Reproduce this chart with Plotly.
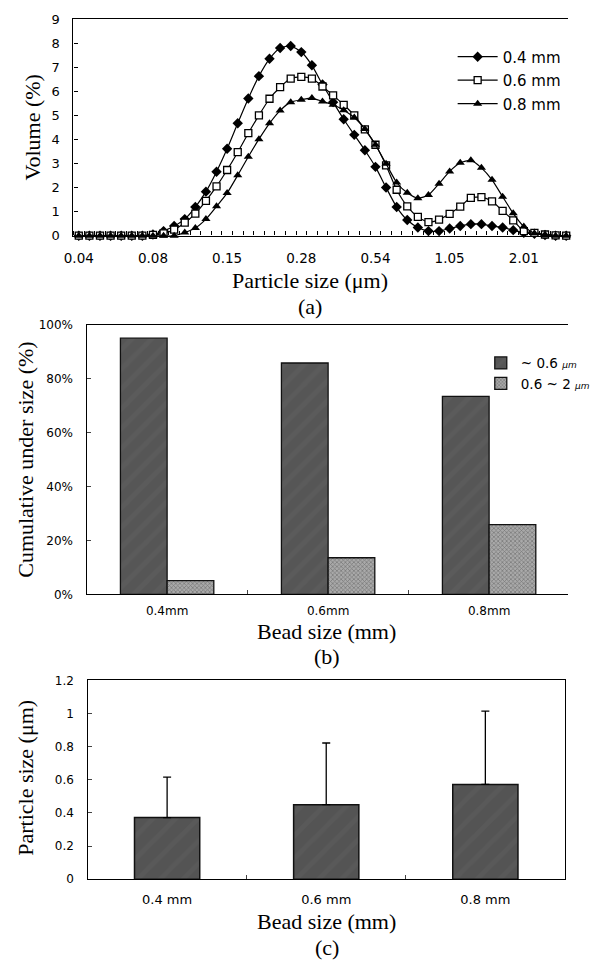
import plotly.graph_objects as go

# ---------------- (a) particle size distribution ----------------
bin_index = list(range(47))
size_tick_index = [0, 7, 14, 21, 28, 35, 42]
size_tick_labels = ["0.04", "0.08", "0.15", "0.28", "0.54", "1.05", "2.01"]

vol_04 = [0, 0, 0, 0, 0, 0, 0, 0.05, 0.19, 0.40, 0.69, 1.19, 1.83, 2.66, 3.61, 4.67,
          5.70, 6.63, 7.35, 7.80, 7.88, 7.63, 7.08, 6.28, 5.55, 4.84, 4.19, 3.55, 2.86,
          2.00, 1.19, 0.65, 0.34, 0.19, 0.19, 0.30, 0.40, 0.48, 0.48, 0.40, 0.34, 0.23,
          0.12, 0.08, 0.03, 0, 0]
vol_06 = [0, 0, 0, 0, 0, 0, 0, 0.03, 0.10, 0.25, 0.54, 0.92, 1.45, 2.05, 2.73, 3.47,
          4.26, 5.00, 5.69, 6.17, 6.53, 6.60, 6.53, 6.20, 5.83, 5.44, 5.00, 4.42, 3.78,
          2.92, 1.91, 1.22, 0.78, 0.56, 0.67, 0.91, 1.21, 1.57, 1.60, 1.43, 1.03, 0.64,
          0.19, 0.12, 0.05, 0.01, 0]
vol_08 = [0, 0, 0, 0, 0, 0, 0, 0, 0, 0, 0.13, 0.32, 0.69, 1.22, 1.77, 2.51,
          3.28, 4.01, 4.67, 5.20, 5.55, 5.65, 5.72, 5.58, 5.44, 5.21, 4.91, 4.43, 3.78,
          2.99, 2.21, 1.78, 1.56, 1.69, 2.16, 2.67, 3.03, 3.13, 2.82, 2.32, 1.62, 0.93,
          0.38, 0.10, 0.05, 0, 0]
series_names_a = ["0.4 mm", "0.6 mm", "0.8 mm"]

# ---------------- (b) cumulative under size ----------------
bead_sizes_b = ["0.4mm", "0.6mm", "0.8mm"]
under_06 = [95.0, 85.8, 73.4]
between_06_2 = [5.1, 13.6, 25.9]

# ---------------- (c) mean particle size ----------------
bead_sizes_c = ["0.4 mm", "0.6 mm", "0.8 mm"]
mean_size = [0.372, 0.450, 0.572]
size_err = [0.244, 0.372, 0.443]

W, H = 595, 965
TICKFONT = "DejaVu Sans"
SERIF = "Liberation Serif, Times New Roman, serif"


def px_x(p):
    return p / W


def px_y(p):
    return 1 - p / H


fig = go.Figure()

line_kw = dict(color="black", width=1.2, shape="spline", smoothing=0.6)
fig.add_trace(go.Scatter(x=bin_index, y=vol_04, name=series_names_a[0], mode="lines+markers",
                         line=line_kw, cliponaxis=False, legendgroup="a1",
                         marker=dict(symbol="diamond", size=8, color="black"),
                         xaxis="x", yaxis="y", legend="legend"))
fig.add_trace(go.Scatter(x=bin_index, y=vol_06, name=series_names_a[1], mode="lines+markers",
                         line=line_kw, cliponaxis=False, legendgroup="a2",
                         marker=dict(symbol="square", size=7, color="white",
                                     line=dict(color="black", width=1.3)),
                         xaxis="x", yaxis="y", legend="legend"))
fig.add_trace(go.Scatter(x=bin_index, y=vol_08, name=series_names_a[2], mode="lines+markers",
                         line=line_kw, cliponaxis=False, legendgroup="a3",
                         marker=dict(symbol="triangle-up", size=8, color="black"),
                         xaxis="x", yaxis="y", legend="legend"))

# (b) bars
fig.add_trace(go.Bar(x=bead_sizes_b, y=under_06,
                     name="~ 0.6 <i><span style='font-size:9px'>μm</span></i>",
                     marker=dict(color="#575757", line=dict(color="#111111", width=1.3),
                                 pattern=dict(shape="/", fgcolor="#606060", bgcolor="#565656",
                                              size=14, solidity=0.35)),
                     xaxis="x2", yaxis="y2", legend="legend2"))
fig.add_trace(go.Bar(x=bead_sizes_b, y=between_06_2,
                     name="0.6 ~ 2 <i><span style='font-size:9px'>μm</span></i>",
                     marker=dict(color="#8c8c8c", line=dict(color="#111111", width=1.3),
                                 pattern=dict(shape="x", fgcolor="#444444", bgcolor="#a9a9a9",
                                              size=3, solidity=0.4)),
                     xaxis="x2", yaxis="y2", legend="legend2"))

# (c) bars with error bars
fig.add_trace(go.Bar(x=bead_sizes_c, y=mean_size, showlegend=False, width=0.41,
                     marker=dict(color="#555555", line=dict(color="#111111", width=1.5),
                                 pattern=dict(shape="/", fgcolor="#5d5d5d", bgcolor="#545454",
                                              size=16, solidity=0.3)),
                     error_y=dict(type="data", array=size_err, arrayminus=[0, 0, 0],
                                  symmetric=False, color="black", thickness=1.3, width=4),
                     xaxis="x3", yaxis="y3"))

axis_common = dict(showgrid=False, zeroline=False, showline=True, linecolor="black",
                   linewidth=1.4)

fig.update_layout(
    width=W, height=H, margin=dict(l=0, r=0, t=0, b=0),
    paper_bgcolor="white", plot_bgcolor="white",
    barmode="group",
    font=dict(family=TICKFONT, color="black"),
    # (a)
    xaxis=dict(domain=[px_x(67.7), 1], range=[-0.5, 46.17], anchor="y",
               tickmode="array", tickvals=size_tick_index, ticktext=size_tick_labels,
               ticks="", ticklabelstandoff=10, mirror=True,
               tickfont=dict(family=TICKFONT, size=13.5),
               minor=dict(tickmode="linear", tick0=0.5, dtick=1, ticks="inside",
                          ticklen=4, tickcolor="black", tickwidth=1),
               **axis_common),
    yaxis=dict(domain=[px_y(232.3), px_y(12.3)], range=[0, 9], dtick=1, anchor="x",
               ticks="inside", ticklen=4, tickcolor="black", ticklabelstandoff=10,
               tickfont=dict(family=TICKFONT, size=13),
               **axis_common),
    # (b)
    xaxis2=dict(domain=[px_x(81.7), 1], range=[-0.5, 2.49], anchor="y2", type="category",
                tickson="boundaries", ticks="inside", ticklen=4, tickcolor="#444",
                ticklabelstandoff=5, mirror=True,
                tickfont=dict(family=TICKFONT, size=12),
                **axis_common),
    yaxis2=dict(domain=[px_y(596.7), px_y(322.7)], range=[0, 100], dtick=20, anchor="x2",
                ticksuffix="%", ticks="inside", ticklen=4, tickcolor="#444",
                ticklabelstandoff=10, tickfont=dict(family=TICKFONT, size=12),
                **axis_common),
    bargap=0.42, bargroupgap=0,
    # (c)
    xaxis3=dict(domain=[px_x(82.7), px_x(591.7)], anchor="y3", type="category",
                tickson="boundaries", ticks="inside", ticklen=4, tickcolor="#444",
                ticklabelstandoff=8, mirror=True,
                tickfont=dict(family=TICKFONT, size=13),
                **axis_common),
    yaxis3=dict(domain=[px_y(886), px_y(684)], range=[0, 1.2], dtick=0.2, anchor="x3",
                ticks="inside", ticklen=4, tickcolor="#444", mirror=True,
                ticklabelstandoff=10, tickfont=dict(family=TICKFONT, size=12),
                **axis_common),
    legend=dict(x=px_x(472), y=px_y(34), xanchor="left", yanchor="top",
                bgcolor="rgba(0,0,0,0)", font=dict(family=TICKFONT, size=15),
                tracegroupgap=1, itemwidth=40),
    legend2=dict(x=px_x(502), y=px_y(346), xanchor="left", yanchor="top",
                 bgcolor="rgba(0,0,0,0)", font=dict(family=TICKFONT, size=13.5),
                 tracegroupgap=3, itemwidth=30),
)

annots = [
    dict(text="Volume (%)", x=px_x(24), y=px_y(122), textangle=-90),
    dict(text="Particle size (μm)", x=px_x(320), y=px_y(278), textangle=0),
    dict(text="(a)", x=px_x(320), y=px_y(304), textangle=0),
    dict(text="Cumulative under size (%)", x=px_x(17), y=px_y(460), textangle=-90),
    dict(text="Bead size (mm)", x=px_x(338), y=px_y(634), textangle=0),
    dict(text="(b)", x=px_x(338), y=px_y(660), textangle=0),
    dict(text="Particle size (μm)", x=px_x(17), y=px_y(783), textangle=-90),
    dict(text="Bead size (mm)", x=px_x(338), y=px_y(929), textangle=0),
    dict(text="(c)", x=px_x(338), y=px_y(955), textangle=0),
]
for a in annots:
    fig.add_annotation(xref="paper", yref="paper", showarrow=False,
                       xanchor="center", yanchor="middle", borderpad=0,
                       font=dict(family=SERIF, size=22, color="black"), **a)

fig.write_html(
    "out.html",
    config={"displayModeBar": False},
    post_script="document.body.style.margin='0';document.body.style.overflow='hidden';",
)
